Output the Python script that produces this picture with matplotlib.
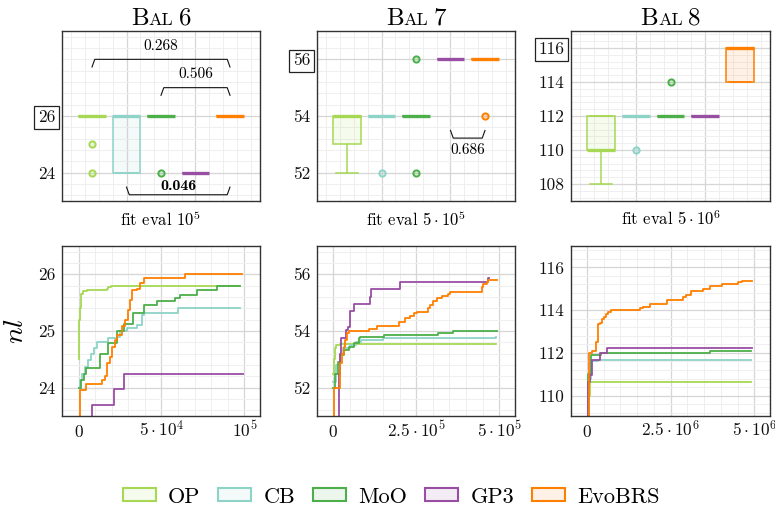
import matplotlib
matplotlib.use('Agg')
import matplotlib.pyplot as plt
from matplotlib.ticker import MultipleLocator, FixedLocator, FixedFormatter, NullFormatter
from matplotlib.patches import Patch
from matplotlib.offsetbox import TextArea, HPacker, AnnotationBbox
from matplotlib.colors import to_rgba

plt.rcParams['font.family'] = 'cmr10'
plt.rcParams['mathtext.fontset'] = 'cm'
plt.rcParams['axes.formatter.use_mathtext'] = True

methods = ['OP', 'CB', 'MoO', 'GP3', 'EvoBRS']
colors = ['#a6d854', '#8dd3c7', '#4daf4a', '#984ea3', '#ff7f00']
instances = ['6', '7', '8']
budget_labels = [r'fit eval $10^5$', r'fit eval $5\cdot10^5$', r'fit eval $5\cdot10^6$']

# ---------- box statistics (final nl per method) ----------
bal6_q1 = [26, 24, 26, 24, 26]
bal6_med = [26, 26, 26, 24, 26]
bal6_q3 = [26, 26, 26, 24, 26]
bal6_whislo = [26, 24, 26, 24, 26]
bal6_whishi = [26, 26, 26, 24, 26]
bal6_fliers = [[25, 24], [], [24], [], []]

bal7_q1 = [53, 54, 54, 56, 56]
bal7_med = [54, 54, 54, 56, 56]
bal7_q3 = [54, 54, 54, 56, 56]
bal7_whislo = [52, 54, 54, 56, 56]
bal7_whishi = [54, 54, 54, 56, 56]
bal7_fliers = [[], [52], [56, 52], [], [54]]

bal8_q1 = [110, 112, 112, 112, 114]
bal8_med = [110, 112, 112, 112, 116]
bal8_q3 = [112, 112, 112, 112, 116]
bal8_whislo = [108, 112, 112, 112, 114]
bal8_whishi = [112, 112, 112, 112, 116]
bal8_fliers = [[], [110], [114], [], []]

box_yticks = [[24, 26], [52, 54, 56], [108, 110, 112, 114, 116]]
box_boxed = [26, 56, 116]
box_ylims = [(23, 29), (51, 57), (107, 117)]

# p-value brackets: (method a, method b, y, label, bold, opens_down)
bal6_brackets = [('OP', 'EvoBRS', 28.0, '0.268', False, True),
                 ('MoO', 'EvoBRS', 27.0, '0.506', False, True),
                 ('CB', 'EvoBRS', 23.22, '0.046', True, False)]
bal7_brackets = [('GP3', 'EvoBRS', 53.22, '0.686', False, False)]
bal8_brackets = []

# ---------- convergence curves (mean best nl vs fitness evaluations) ----------
b6_op_x = [0, 400, 800, 1500, 2500, 5000, 17000, 18000, 19500, 97500]
b6_op_y = [24.5, 25.2, 25.4, 25.65, 25.7, 25.72, 25.74, 25.77, 25.8, 25.8]
b6_cb_x = [0, 1000, 2000, 4000, 5400, 7400, 9000, 11400, 18000, 23100, 25100, 29100, 35100, 38150, 39200, 60200, 97400]
b6_cb_y = [24.0, 24.13, 24.25, 24.37, 24.49, 24.6, 24.7, 24.8, 24.87, 24.9, 25.0, 25.06, 25.1, 25.28, 25.32, 25.4, 25.4]
b6_moo_x = [0, 1600, 3000, 4600, 13000, 14700, 18000, 19000, 23000, 25100, 27100, 33100, 39200, 47200, 58200, 61200, 71300, 83300, 97400]
b6_moo_y = [24.0, 24.13, 24.25, 24.34, 24.6, 24.6, 24.78, 24.78, 25.0, 25.0, 25.13, 25.32, 25.46, 25.53, 25.58, 25.64, 25.72, 25.8, 25.8]
b6_gp3_x = [0, 8000, 21100, 27100, 99000]
b6_gp3_y = [23.2, 23.69, 23.97, 24.24, 24.24]
b6_evo_x = [0, 600, 4600, 14000, 16000, 17000, 19000, 20000, 22000, 23000, 26100, 28100, 29500, 31100, 32500, 35100, 37100, 39200, 63300, 64300, 98400]
b6_evo_y = [23.0, 23.96, 24.06, 24.13, 24.2, 24.43, 24.55, 24.72, 24.84, 24.93, 25.08, 25.2, 25.37, 25.55, 25.72, 25.75, 25.84, 25.93, 25.93, 26.0, 26.0]

b7_op_x = [0, 3000, 6000, 10000, 20000, 490000]
b7_op_y = [52.5, 53.0, 53.4, 53.5, 53.53, 53.53]
b7_cb_x = [0, 10000, 20000, 30000, 50000, 70000, 85000, 140000, 150000, 490000]
b7_cb_y = [52.2, 52.8, 53.2, 53.4, 53.5, 53.6, 53.68, 53.7, 53.76, 53.8]
b7_moo_x = [0, 7000, 14000, 22000, 32000, 47000, 62000, 77000, 82000, 152000, 317000, 362000, 492000]
b7_moo_y = [52.0, 52.5, 52.9, 53.15, 53.33, 53.45, 53.56, 53.77, 53.8, 53.86, 53.92, 54.0, 54.0]
b7_gp3_x = [0, 17000, 22000, 25000, 40000, 44000, 50000, 52000, 62000, 112000, 114000, 200000, 465000, 470000]
b7_gp3_y = [50.5, 52.5, 53.2, 53.76, 54.03, 54.15, 54.4, 54.7, 54.95, 55.2, 55.47, 55.74, 55.86, 55.86]
b7_evo_x = [0, 4000, 22000, 27000, 32000, 37000, 42000, 47000, 102000, 107000, 127000, 132000, 192000, 197000, 212000, 217000, 232000, 242000, 252000, 277000, 287000, 292000, 302000, 312000, 327000, 347000, 352000, 447000, 452000, 462000, 467000, 492000]
b7_evo_y = [50.5, 52.0, 52.86, 53.2, 53.45, 53.68, 53.92, 54.0, 54.0, 54.07, 54.07, 54.18, 54.18, 54.33, 54.33, 54.45, 54.53, 54.62, 54.68, 54.68, 54.8, 54.92, 55.07, 55.15, 55.24, 55.3, 55.39, 55.54, 55.66, 55.74, 55.8, 55.8]

b8_op_x = [0, 50000, 100000, 4900000]
b8_op_y = [108.5, 110.0, 110.65, 110.65]
b8_cb_x = [0, 50000, 120000, 320000, 4900000]
b8_cb_y = [108.5, 110.8, 111.6, 111.67, 111.67]
b8_moo_x = [0, 40000, 120000, 420000, 3670000, 4900000]
b8_moo_y = [108.5, 111.0, 111.92, 112.0, 112.08, 112.08]
b8_gp3_x = [0, 40000, 100000, 140000, 370000, 380000, 570000, 600000, 4940000]
b8_gp3_y = [108.5, 110.65, 110.96, 111.68, 111.68, 112.0, 112.0, 112.25, 112.25]
b8_evo_x = [0, 70000, 140000, 220000, 270000, 320000, 400000, 440000, 500000, 570000, 620000, 720000, 1520000, 1570000, 1670000, 1870000, 2370000, 2400000, 2800000, 2870000, 2970000, 3120000, 3420000, 3470000, 3670000, 4020000, 4470000, 4520000, 4620000, 4920000]
b8_evo_y = [108.5, 112.0, 112.08, 112.1, 112.5, 113.35, 113.42, 113.6, 113.7, 113.83, 113.9, 114.0, 114.0, 114.1, 114.17, 114.3, 114.3, 114.48, 114.48, 114.6, 114.7, 114.9, 114.9, 114.98, 115.13, 115.24, 115.24, 115.33, 115.36, 115.36]

box_sets = [
    (bal6_q1, bal6_med, bal6_q3, bal6_whislo, bal6_whishi, bal6_fliers, bal6_brackets),
    (bal7_q1, bal7_med, bal7_q3, bal7_whislo, bal7_whishi, bal7_fliers, bal7_brackets),
    (bal8_q1, bal8_med, bal8_q3, bal8_whislo, bal8_whishi, bal8_fliers, bal8_brackets),
]
curve_sets = [
    [(b6_op_x, b6_op_y), (b6_cb_x, b6_cb_y), (b6_moo_x, b6_moo_y), (b6_gp3_x, b6_gp3_y), (b6_evo_x, b6_evo_y)],
    [(b7_op_x, b7_op_y), (b7_cb_x, b7_cb_y), (b7_moo_x, b7_moo_y), (b7_gp3_x, b7_gp3_y), (b7_evo_x, b7_evo_y)],
    [(b8_op_x, b8_op_y), (b8_cb_x, b8_cb_y), (b8_moo_x, b8_moo_y), (b8_gp3_x, b8_gp3_y), (b8_evo_x, b8_evo_y)],
]
curve_xlims = [(-1.0e4, 1.094e5), (-4.8e4, 5.47e5), (-4.8e5, 5.47e6)]
curve_ylims = [(23.5, 26.5), (51, 57), (109.05, 117)]
curve_yticks = [[24, 25, 26], [52, 54, 56], [110, 112, 114, 116]]
curve_yminor = [0.2, 0.4, 0.4]
curve_xticks = [[0, 5e4, 1e5], [0, 2.5e5, 5e5], [0, 2.5e6, 5e6]]
curve_xlabels = [[r'$0$', r'$5\cdot10^4$', r'$10^5$'],
                 [r'$0$', r'$2.5\cdot10^5$', r'$5\cdot10^5$'],
                 [r'$0$', r'$2.5\cdot10^6$', r'$5\cdot10^6$']]
curve_xminor = [1e4, 5e4, 5e5]

W, H = 775, 509
fig = plt.figure(figsize=(W / 100, H / 100), dpi=100)

lefts = [62, 317, 571]
widths = [198, 198, 199]
top_axes = [fig.add_axes([l / W, (H - 201) / H, w / W, 170 / H]) for l, w in zip(lefts, widths)]
bot_axes = [fig.add_axes([l / W, (H - 416) / H, w / W, 170 / H]) for l, w in zip(lefts, widths)]

MAJ = '#d6d6d6'
MIN = '#efefef'
TICKSIZE = 12.5


def style(ax):
    ax.set_axisbelow(True)
    ax.grid(True, which='major', color=MAJ, lw=0.9)
    ax.grid(True, which='minor', color=MIN, lw=0.7)
    ax.tick_params(which='both', length=0, labelsize=TICKSIZE, colors='#111111', pad=5)
    for s in ax.spines.values():
        s.set_color('#333333')
        s.set_linewidth(1.0)


def small_caps_title(ax, num):
    parts = [TextArea('B', textprops=dict(fontsize=18, family='cmr10')),
             TextArea('AL', textprops=dict(fontsize=13, family='cmr10')),
             TextArea(num, textprops=dict(fontsize=18, family='cmr10'))]
    box = HPacker(children=[HPacker(children=parts[:2], align='baseline', pad=0, sep=0), parts[2]],
                  align='baseline', pad=0, sep=4)
    ab = AnnotationBbox(box, (0.5, 1.0), xycoords='axes fraction', xybox=(0, 1),
                        boxcoords='offset points', box_alignment=(0.5, 0), frameon=False, pad=0)
    ax.add_artist(ab)


positions = list(range(1, len(methods) + 1))

for i, ax in enumerate(top_axes):
    q1, med, q3, wlo, whi, fl, brs = box_sets[i]
    stats = [dict(q1=q1[k], med=med[k], q3=q3[k], whislo=wlo[k], whishi=whi[k], fliers=fl[k])
             for k in range(len(methods))]
    style(ax)
    for k, st in enumerate(stats):
        c = colors[k]
        ax.bxp([st], positions=[positions[k]], widths=0.8, patch_artist=True,
               boxprops=dict(facecolor=to_rgba(c, 0.1), edgecolor=c, lw=1.1),
               medianprops=dict(color=c, lw=2.4, solid_capstyle='butt'),
               whiskerprops=dict(color=c, lw=1.1),
               capprops=dict(color=c, lw=1.1),
               capwidths=0.62,
               flierprops=dict(marker='o', markersize=4.5, markerfacecolor=to_rgba(c, 0.25),
                               markeredgecolor=c, markeredgewidth=1.4, linestyle='none'),
               manage_ticks=False)
    ax.set_xlim(0.13, 5.87)
    ax.set_ylim(*box_ylims[i])
    ax.xaxis.set_major_locator(FixedLocator([0, 2, 4, 6]))
    ax.xaxis.set_major_formatter(NullFormatter())
    ax.xaxis.set_minor_locator(MultipleLocator(0.4))
    ax.yaxis.set_minor_locator(MultipleLocator(0.4))
    ax.set_xlabel(budget_labels[i], fontsize=12, labelpad=1)
    yt = box_yticks[i]
    ax.set_yticks(yt)
    ax.set_yticklabels([str(v) for v in yt])
    for t, v in zip(ax.yaxis.get_major_ticks(), yt):
        if v == box_boxed[i]:
            t.label1.set_bbox(dict(boxstyle='square,pad=0.2', fc='white', ec='#222222', lw=0.9))
    small_caps_title(ax, instances[i])
    # brackets
    yr = box_ylims[i][1] - box_ylims[i][0]
    for a, b, yb, lab, bold, down in brs:
        xa = positions[methods.index(a)]
        xb = positions[methods.index(b)]
        d = 0.045 * yr * (-1 if down else 1)
        e = 0.08
        ax.plot([xa, xa + e, xb - e, xb], [yb + d, yb, yb, yb + d], color='#111111', lw=0.8,
                solid_joinstyle='round')
        if down:
            ax.text((xa + xb) / 2, yb + 0.04 * yr, lab, ha='center', va='bottom', fontsize=11)
        elif bold:
            ax.text((xa + xb) / 2, yb + 0.012 * yr, lab, ha='center', va='bottom', fontsize=11.5,
                    family='cmb10')
        else:
            ax.text((xa + xb) / 2, yb - 0.03 * yr, lab, ha='center', va='top', fontsize=11)

for i, ax in enumerate(bot_axes):
    style(ax)
    for k, (xs, ys) in enumerate(curve_sets[i]):
        ax.plot(xs, ys, drawstyle='steps-post', color=colors[k], lw=1.3)
    ax.set_xlim(*curve_xlims[i])
    ax.set_ylim(*curve_ylims[i])
    ax.xaxis.set_major_locator(FixedLocator(curve_xticks[i]))
    ax.xaxis.set_major_formatter(FixedFormatter(curve_xlabels[i]))
    ax.xaxis.set_minor_locator(MultipleLocator(curve_xminor[i]))
    ax.yaxis.set_major_locator(FixedLocator(curve_yticks[i]))
    ax.yaxis.set_minor_locator(MultipleLocator(curve_yminor[i]))
    ax.set_yticklabels([str(v) for v in curve_yticks[i]])
    ax.tick_params(axis='x', pad=15)
    for lab in ax.get_xticklabels():
        lab.set_verticalalignment('baseline')

bot_axes[0].set_ylabel(r'$nl$', fontsize=20, labelpad=6)

handles = [Patch(facecolor=to_rgba(c, 0.1), edgecolor=c, lw=1.5, label=m) for m, c in zip(methods, colors)]
fig.legend(handles=handles, loc='center', bbox_to_anchor=(0.505, 0.024), ncol=5, frameon=False,
           fontsize=16, handlelength=1.49, handleheight=0.54, columnspacing=0.8, handletextpad=0.55)

fig.savefig('out.png', dpi=100)
